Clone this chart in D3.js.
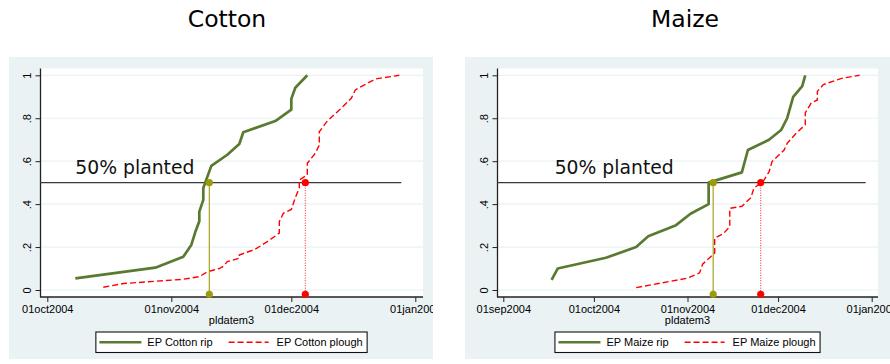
<!DOCTYPE html>
<html>
<head>
<meta charset="utf-8">
<script src="https://cdn.jsdelivr.net/npm/d3@7"></script>
<style>
  html, body { margin: 0; padding: 0; background: #ffffff; }
  svg { display: block; }
</style>
</head>
<body>
<svg id="chart" width="890" height="364"></svg>
<script>
// ---- data -------------------------------------------------------------
const panelTitles = ["Cotton", "Maize"];
const seriesLabels = [["EP Cotton rip", "EP Cotton plough"], ["EP Maize rip", "EP Maize plough"]];
const xAxisTitle = "pldatem3";
const refLabel = "50% planted";
const refValue = 0.5;

// cumulative share of plots planted, by planting date
const cottonRip = [
  ["2004-10-08", 0.054], ["2004-10-28", 0.104], ["2004-11-04", 0.155], ["2004-11-06", 0.21],
  ["2004-11-07", 0.27], ["2004-11-08", 0.32], ["2004-11-08", 0.365], ["2004-11-09", 0.42],
  ["2004-11-09", 0.475], ["2004-11-11", 0.578], ["2004-11-15", 0.63], ["2004-11-18", 0.68],
  ["2004-11-19", 0.735], ["2004-11-27", 0.787], ["2004-12-01", 0.84], ["2004-12-01", 0.89],
  ["2004-12-02", 0.942], ["2004-12-05", 1.0]
];
const cottonPlough = [
  ["2004-10-15", 0.013], ["2004-10-20", 0.03], ["2004-11-04", 0.05], ["2004-11-08", 0.062],
  ["2004-11-10", 0.085], ["2004-11-13", 0.10], ["2004-11-14", 0.11], ["2004-11-15", 0.132],
  ["2004-11-18", 0.148], ["2004-11-18", 0.163], ["2004-11-22", 0.19], ["2004-11-25", 0.225],
  ["2004-11-28", 0.265], ["2004-11-28", 0.318], ["2004-11-29", 0.357], ["2004-12-01", 0.375],
  ["2004-12-02", 0.43], ["2004-12-03", 0.475], ["2004-12-03", 0.512], ["2004-12-05", 0.536],
  ["2004-12-05", 0.59], ["2004-12-07", 0.637], ["2004-12-08", 0.675], ["2004-12-08", 0.737],
  ["2004-12-10", 0.787], ["2004-12-13", 0.838], ["2004-12-16", 0.893], ["2004-12-17", 0.932],
  ["2004-12-22", 0.983], ["2004-12-28", 1.0]
];
const maizeRip = [
  ["2004-09-17", 0.047], ["2004-09-19", 0.10], ["2004-10-05", 0.15], ["2004-10-15", 0.20],
  ["2004-10-19", 0.25], ["2004-10-28", 0.30], ["2004-11-02", 0.355], ["2004-11-08", 0.40],
  ["2004-11-08", 0.50], ["2004-11-19", 0.548], ["2004-11-21", 0.652], ["2004-11-28", 0.70],
  ["2004-12-02", 0.745], ["2004-12-04", 0.80], ["2004-12-06", 0.90], ["2004-12-09", 0.95],
  ["2004-12-10", 1.0]
];
const maizePlough = [
  ["2004-10-15", 0.011], ["2004-11-01", 0.055], ["2004-11-05", 0.08], ["2004-11-06", 0.12],
  ["2004-11-10", 0.172], ["2004-11-10", 0.241], ["2004-11-13", 0.264], ["2004-11-15", 0.295],
  ["2004-11-15", 0.38], ["2004-11-19", 0.39], ["2004-11-22", 0.43], ["2004-11-23", 0.475],
  ["2004-11-26", 0.505], ["2004-11-28", 0.55], ["2004-11-29", 0.598], ["2004-12-03", 0.652],
  ["2004-12-04", 0.683], ["2004-12-07", 0.73], ["2004-12-10", 0.77], ["2004-12-10", 0.825],
  ["2004-12-12", 0.872], ["2004-12-14", 0.885], ["2004-12-14", 0.925], ["2004-12-16", 0.957],
  ["2004-12-22", 0.986], ["2004-12-28", 1.0]
];

// median planting dates (rip, plough) and the reach of the 50% reference line
const cottonMedians = ["2004-11-10T12:00", "2004-12-04T12:00"];
const maizeMedians = ["2004-11-09T12:00", "2004-11-25T06:00"];
const cottonRefEnd = "2004-12-28T12:00";
const maizeRefEnd = "2004-12-30";
const cottonLabelDate = "2004-10-08";
const maizeLabelDate = "2004-09-18";
const medianMarkerValue = -0.02;

const yTicks = [0, 0.2, 0.4, 0.6, 0.8, 1];
const yTickLabels = ["0", ".2", ".4", ".6", ".8", "1"];
const cottonXTicks = ["2004-10-01", "2004-11-01", "2004-12-01", "2005-01-01"];
const maizeXTicks = ["2004-09-01", "2004-10-01", "2004-11-01", "2004-12-01", "2005-01-01"];

// ---- helpers ----------------------------------------------------------
const parseDay = d3.timeParse("%Y-%m-%d");
const parseStamp = d3.timeParse("%Y-%m-%dT%H:%M");
const parseDate = s => (s.length > 10 ? parseStamp(s) : parseDay(s));
const fmtTick = d => d3.timeFormat("%d%b%Y")(d).toLowerCase();

// ---- layout / style ---------------------------------------------------
const COL_BG = "#eaf2f3";
const COL_RIP = "#5a7a32";
const COL_PLOUGH = "#ff0000";
const COL_MED_RIP = "#9c9c0a";
const SMALL_FONT = "'Liberation Sans', Arial, sans-serif";
const BIG_FONT = "'DejaVu Sans', Verdana, sans-serif";
const PLOUGH_DASH = "6,3";

const panels = [
  {
    title: panelTitles[0], titleX: 227,
    bg: { x: 9, y: 57, w: 424, h: 302 },
    plot: { x0: 40, x1: 423, y0: 68.5, y1: 297 },
    xRange: [47.3, 415.3], ticks: cottonXTicks,
    rip: cottonRip, plough: cottonPlough, medians: cottonMedians,
    refEnd: cottonRefEnd, labelDate: cottonLabelDate, labels: seriesLabels[0]
  },
  {
    title: panelTitles[1], titleX: 685,
    bg: { x: 465, y: 57, w: 430, h: 302 },
    plot: { x0: 497, x1: 878, y0: 68.5, y1: 297 },
    xRange: [503.3, 871.7], ticks: maizeXTicks,
    rip: maizeRip, plough: maizePlough, medians: maizeMedians,
    refEnd: maizeRefEnd, labelDate: maizeLabelDate, labels: seriesLabels[1]
  }
];

const svg = d3.select("#chart");
const defs = svg.append("defs");
const y = d3.scaleLinear().domain([0, 1]).range([290, 75.3]);

panels.forEach((p, i) => {
  // panel title
  svg.append("text")
    .attr("x", p.titleX).attr("y", 27)
    .attr("text-anchor", "middle")
    .style("font-family", BIG_FONT).style("font-size", "23.5px").attr("fill", "#000")
    .text(p.title);

  const clipId = "clip" + i;
  defs.append("clipPath").attr("id", clipId)
    .append("rect").attr("x", p.bg.x).attr("y", p.bg.y).attr("width", p.bg.w).attr("height", p.bg.h);

  const g = svg.append("g").attr("clip-path", `url(#${clipId})`);
  g.append("rect").attr("x", p.bg.x).attr("y", p.bg.y).attr("width", p.bg.w).attr("height", p.bg.h)
    .attr("fill", COL_BG);
  g.append("rect").attr("x", p.plot.x0).attr("y", p.plot.y0)
    .attr("width", p.plot.x1 - p.plot.x0).attr("height", p.plot.y1 - p.plot.y0)
    .attr("fill", "#ffffff");

  const tickDates = p.ticks.map(parseDate);
  const x = d3.scaleTime().domain([tickDates[0], tickDates[tickDates.length - 1]]).range(p.xRange);

  // horizontal grid
  g.append("g").selectAll("line").data(yTicks).join("line")
    .attr("x1", p.plot.x0).attr("x2", p.plot.x1)
    .attr("y1", d => y(d)).attr("y2", d => y(d))
    .attr("stroke", COL_BG).attr("stroke-width", 1.2);

  // y axis
  const yAxis = d3.axisLeft(y).tickValues(yTicks).tickSize(5)
    .tickFormat((d, k) => yTickLabels[k]);
  const ya = g.append("g").attr("transform", `translate(${p.plot.x0 + 0.5},0)`).call(yAxis);
  ya.select(".domain").attr("d", `M0,${p.plot.y0}V${p.plot.y1}`).attr("stroke", "#222").attr("stroke-width", 1.3);
  ya.selectAll(".tick line").attr("stroke", "#222");
  ya.selectAll(".tick text")
    .attr("x", null).attr("dy", null)
    .attr("transform", "translate(-9.5,0) rotate(-90)")
    .attr("text-anchor", "middle")
    .style("font-family", SMALL_FONT).style("font-size", "11px").attr("fill", "#000");

  // x axis
  const xAxis = d3.axisBottom(x).tickValues(tickDates).tickSize(5).tickFormat(fmtTick);
  const xa = g.append("g").attr("transform", `translate(0,${p.plot.y1})`).call(xAxis);
  xa.select(".domain").attr("d", `M${p.plot.x0},0H${p.plot.x1}`).attr("stroke", "#222").attr("stroke-width", 1.3);
  xa.selectAll(".tick line").attr("stroke", "#222");
  xa.selectAll(".tick text").attr("y", 8.5).attr("dy", "0.71em")
    .style("font-family", SMALL_FONT).style("font-size", "11px").attr("fill", "#000");

  g.append("text")
    .attr("x", (p.plot.x0 + p.plot.x1) / 2).attr("y", 324)
    .attr("text-anchor", "middle")
    .style("font-family", SMALL_FONT).style("font-size", "11px").attr("fill", "#000")
    .text(xAxisTitle);

  // 50% reference line and label
  g.append("line")
    .attr("x1", p.plot.x0).attr("x2", x(parseDate(p.refEnd)))
    .attr("y1", y(refValue)).attr("y2", y(refValue))
    .attr("stroke", "#3a3a3a").attr("stroke-width", 1.2);
  g.append("text")
    .attr("x", x(parseDate(p.labelDate))).attr("y", y(0.54))
    .style("font-family", BIG_FONT).style("font-size", "18.8px").attr("fill", "#111")
    .text(refLabel);

  // cumulative curves
  const line = d3.line().x(d => x(parseDate(d[0]))).y(d => y(d[1]));
  g.append("path").datum(p.plough).attr("d", line)
    .attr("fill", "none").attr("stroke", COL_PLOUGH).attr("stroke-width", 1.4)
    .attr("stroke-dasharray", PLOUGH_DASH);
  g.append("path").datum(p.rip).attr("d", line)
    .attr("fill", "none").attr("stroke", COL_RIP).attr("stroke-width", 2.7)
    .attr("stroke-linejoin", "round");

  // median drop lines and markers
  const medStyles = [
    { color: COL_MED_RIP, dash: null, width: 1.1 },
    { color: COL_PLOUGH, dash: "1,1.5", width: 0.9 }
  ];
  p.medians.forEach((m, k) => {
    const mx = x(parseDate(m));
    const st = medStyles[k];
    g.append("line")
      .attr("x1", mx).attr("x2", mx)
      .attr("y1", y(refValue)).attr("y2", y(medianMarkerValue))
      .attr("stroke", st.color).attr("stroke-width", st.width)
      .attr("stroke-dasharray", st.dash);
    g.selectAll(null).data([refValue, medianMarkerValue]).join("circle")
      .attr("cx", mx).attr("cy", d => y(d)).attr("r", 3.6)
      .attr("fill", st.color);
  });

  // legend
  const cx = (p.plot.x0 + p.plot.x1) / 2;
  const leg = g.append("g");
  const box = leg.append("rect").attr("fill", "#fff").attr("stroke", "#111").attr("stroke-width", 1.1);
  const t1 = leg.append("text").text(p.labels[0]);
  const t2 = leg.append("text").text(p.labels[1]);
  leg.selectAll("text").style("font-family", SMALL_FONT).style("font-size", "11px").attr("fill", "#000");
  const w1 = t1.node().getComputedTextLength();
  const w2 = t2.node().getComputedTextLength();
  const padL = 3.5, lineW = 42, gapT = 6, gapItem = 16, padR = 4.5;
  const total = padL + lineW + gapT + w1 + gapItem + lineW + gapT + w2 + padR;
  const bx = cx - total / 2, by = 332, bh = 20.5, my = by + bh / 2;
  box.attr("x", bx).attr("y", by).attr("width", total).attr("height", bh);
  let cur = bx + padL;
  leg.append("line").attr("x1", cur).attr("x2", cur + lineW).attr("y1", my).attr("y2", my)
    .attr("stroke", COL_RIP).attr("stroke-width", 2.7);
  cur += lineW + gapT;
  t1.attr("x", cur).attr("y", my + 4);
  cur += w1 + gapItem;
  leg.append("line").attr("x1", cur).attr("x2", cur + lineW - 2).attr("y1", my).attr("y2", my)
    .attr("stroke", COL_PLOUGH).attr("stroke-width", 1.4).attr("stroke-dasharray", PLOUGH_DASH);
  cur += lineW + gapT;
  t2.attr("x", cur).attr("y", my + 4);
});
</script>
</body>
</html>
